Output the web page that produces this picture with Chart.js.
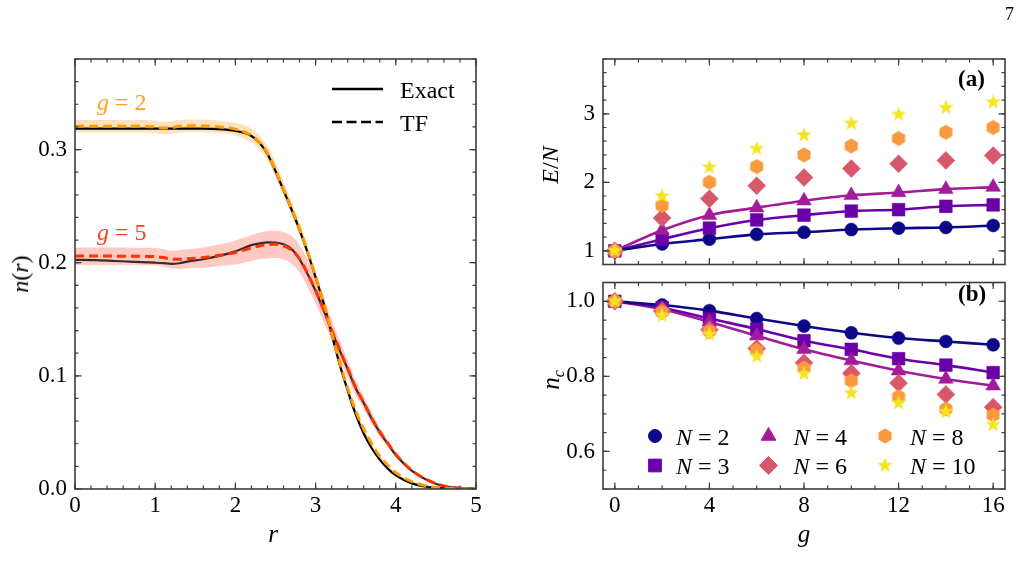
<!DOCTYPE html>
<html><head><meta charset="utf-8">
<script src="https://cdn.jsdelivr.net/npm/chart.js@4.4.0/dist/chart.umd.min.js"></script>
<style>
body{margin:0;background:#fff;width:1021px;height:582px;overflow:hidden;position:relative;font-family:"Liberation Serif","Times New Roman",serif;}
canvas{position:absolute;}
.lbl{position:absolute;white-space:nowrap;color:#000;line-height:1;}
.rot{transform:translate(-50%,-50%) rotate(-90deg);}
.ctr{transform:translate(-50%,-50%);}
</style></head><body>
<canvas id="cL" width="520" height="582" style="left:0;top:0"></canvas>
<canvas id="cA" width="481" height="274" style="left:540px;top:0"></canvas>
<canvas id="cB" width="481" height="309" style="left:540px;top:273px"></canvas>

<div class="lbl" style="left:1005px;top:5px;font-size:18px;">7</div>
<div class="lbl rot" style="left:20px;top:274px;font-size:24px;"><i>n</i>(<i>r</i>)</div>
<div class="lbl ctr" style="left:273px;top:533px;font-size:25px;"><i>r</i></div>
<div class="lbl rot" style="left:550px;top:165px;font-size:24px;"><i>E</i>/<i>N</i></div>
<div class="lbl rot" style="left:550px;top:380px;font-size:25px;"><i>n</i><i style="font-size:16px;position:relative;top:5px;">c</i></div>
<div class="lbl ctr" style="left:804px;top:533px;font-size:25px;"><i>g</i></div>
<div class="lbl" style="left:97px;top:90px;font-size:24px;color:#ffa31a;"><i>g</i> = 2</div>
<div class="lbl" style="left:97px;top:220px;font-size:24px;color:#ff3d1f;"><i>g</i> = 5</div>
<div class="lbl" style="left:958px;top:67px;font-size:23px;font-weight:bold;">(a)</div>
<div class="lbl" style="left:958px;top:282px;font-size:23px;font-weight:bold;">(b)</div>

<script>
// ---------- data: density profiles n(r) ----------
const rGrid   = [0,0.25,0.5,0.75,1.0,1.1,1.2,1.3,1.4,1.6,1.8,2.0,2.2,2.3,2.4,2.5,2.6,2.7,2.8,2.9,3.0,3.1,3.2,3.3,3.4,3.5,3.6,3.7,3.8,3.9,4.0,4.2,4.4,4.6,4.8,5.0];
const g2Exact = [.3185,.3185,.3185,.3185,.3185,.3185,.3185,.3185,.3185,.3185,.3180,.3165,.3120,.3060,.2960,.2810,.2640,.2470,.2290,.2090,.1870,.1640,.1370,.1100,.0870,.0660,.0490,.0360,.0260,.0180,.0120,.0050,.0018,.0006,.0002,0];
const g2TF    = [.3205,.3205,.3205,.3205,.3200,.3190,.3195,.3205,.3210,.3208,.3200,.3180,.3125,.3065,.2970,.2820,.2650,.2480,.2300,.2100,.1880,.1650,.1380,.1120,.0890,.0690,.0530,.0400,.0290,.0210,.0145,.0065,.0025,.0008,.0002,0];
const g2BandHi= [.3260,.3260,.3260,.3260,.3255,.3245,.3250,.3260,.3265,.3263,.3255,.3235,.3185,.3125,.3035,.2885,.2710,.2540,.2355,.2150,.1925,.1690,.1415,.1150,.0915,.0710,.0545,.0412,.0300,.0218,.0151,.0069,.0027,.0009,.0003,.0001];
const g2BandLo= [.3150,.3150,.3150,.3150,.3145,.3135,.3140,.3150,.3155,.3153,.3145,.3125,.3065,.3005,.2905,.2755,.2590,.2420,.2245,.2050,.1835,.1610,.1345,.1090,.0865,.0670,.0515,.0388,.0280,.0202,.0139,.0061,.0023,.0007,.0001,0];
const g5Exact = [.2025,.2022,.2015,.2008,.2000,.1996,.1990,.1995,.2010,.2030,.2060,.2100,.2155,.2170,.2180,.2178,.2162,.2120,.2030,.1900,.1750,.1580,.1400,.1225,.1060,.0890,.0760,.0620,.0500,.0400,.0300,.0160,.0075,.0025,.0008,.0002];
const g5TF    = [.2058,.2058,.2058,.2056,.2054,.2045,.2032,.2030,.2035,.2045,.2065,.2090,.2130,.2148,.2160,.2162,.2150,.2112,.2035,.1905,.1755,.1585,.1405,.1230,.1065,.0895,.0765,.0625,.0505,.0405,.0305,.0165,.0078,.0027,.0009,.0002];
const g5BandHi= [.2135,.2135,.2135,.2133,.2130,.2120,.2105,.2110,.2118,.2135,.2160,.2195,.2245,.2265,.2280,.2282,.2270,.2235,.2155,.2025,.1870,.1690,.1500,.1315,.1140,.0960,.0820,.0675,.0545,.0435,.0330,.0180,.0087,.0031,.0011,.0003];
const g5BandLo= [.1980,.1980,.1980,.1978,.1975,.1965,.1950,.1942,.1950,.1955,.1970,.1985,.2015,.2030,.2040,.2042,.2030,.1990,.1915,.1785,.1640,.1480,.1310,.1145,.0990,.0830,.0710,.0575,.0465,.0375,.0280,.0150,.0069,.0023,.0007,.0001];
const leftLegendLabels = ['Exact','TF'];
const rTicks  = [0,1,2,3,4,5];
const nTicks  = [0,0.1,0.2,0.3];

// ---------- data: energies and condensate fraction ----------
const gValues = [0,2,4,6,8,10,12,14,16];
const particleNumbers = [2,3,4,6,8,10];
const eN2  = [1.00,1.10,1.17,1.24,1.27,1.31,1.33,1.34,1.37];
const eN3  = [1.00,1.17,1.33,1.45,1.52,1.58,1.60,1.65,1.67];
const eN4  = [1.00,1.30,1.52,1.63,1.73,1.81,1.85,1.90,1.93];
const eN6  = [1.00,1.48,1.76,1.95,2.07,2.20,2.27,2.32,2.39];
const eN8  = [1.00,1.66,2.00,2.23,2.40,2.53,2.64,2.73,2.80];
const eN10 = [1.00,1.80,2.22,2.49,2.69,2.86,2.99,3.09,3.17];
const ncN2  = [1.000,0.990,0.975,0.954,0.934,0.916,0.902,0.893,0.884];
const ncN3  = [1.000,0.983,0.954,0.926,0.895,0.872,0.847,0.830,0.810];
const ncN4  = [1.000,0.979,0.945,0.908,0.872,0.842,0.815,0.793,0.775];
const ncN6  = [1.000,0.975,0.924,0.874,0.836,0.808,0.782,0.752,0.718];
const ncN8  = [1.000,0.971,0.920,0.870,0.822,0.788,0.746,0.713,0.697];
const ncN10 = [1.000,0.962,0.912,0.853,0.807,0.756,0.729,0.706,0.671];
const gTicks  = [0,4,8,12,16];
const eTicks  = [1,2,3];
const ncTicks = [0.6,0.8,1.0];

// ---------- styling ----------
const SERIF = '"Liberation Serif", "Times New Roman", serif';
const TICKFONT = {family: SERIF, size: 23};
const nColors = ['#0d0887','#6a00a8','#a11b9b','#d8576b','#fa9a3d','#f5e424'];

function markerCanvas(kind, color) {
  const s = 20, c = document.createElement('canvas');
  c.width = s; c.height = s;
  const x = c.getContext('2d');
  x.fillStyle = color;
  x.beginPath();
  if (kind === 'hex') {
    const R = 7.5;
    for (let k = 0; k < 6; k++) {
      const a = Math.PI/2 + k*Math.PI/3;
      const px = s/2 + R*Math.cos(a), py = s/2 - R*Math.sin(a);
      k ? x.lineTo(px, py) : x.moveTo(px, py);
    }
  } else {
    const R = 8, r = 3.3;
    for (let k = 0; k < 10; k++) {
      const a = Math.PI/2 + k*Math.PI/5, rr = k % 2 ? r : R;
      const px = s/2 + rr*Math.cos(a), py = s/2 - rr*Math.sin(a);
      k ? x.lineTo(px, py) : x.moveTo(px, py);
    }
  }
  x.closePath(); x.fill();
  return c;
}
const nStyles = [
  {pointStyle:'circle', radius:6.5},
  {pointStyle:'rect', radius:9},
  {pointStyle:'triangle', radius:8.5},
  {pointStyle:'rectRot', radius:9},
  {pointStyle:markerCanvas('hex', nColors[4]), radius:7},
  {pointStyle:markerCanvas('star', nColors[5]), radius:7}
];

function pts(xs, ys) { return xs.map((x, i) => ({x, y: ys[i]})); }

function minorValues(scale, step) {
  const out = [];
  const k0 = Math.ceil(scale.min/step - 1e-9);
  for (let k = k0; k*step <= scale.max + 1e-9; k++) out.push(k*step);
  return out;
}
const frameTicks = {
  id: 'frameTicks',
  afterDraw(chart, args, opts) {
    const {ctx, chartArea: a, scales} = chart;
    const xs = scales.x, ys = scales.y;
    ctx.save();
    ctx.strokeStyle = '#3c3c3c';
    ctx.lineWidth = 1.2;
    const draw = (vals, scale, horiz, len) => {
      ctx.beginPath();
      vals.forEach(v => {
        const p = scale.getPixelForValue(v);
        if (horiz) { ctx.moveTo(p, a.bottom); ctx.lineTo(p, a.bottom - len); ctx.moveTo(p, a.top); ctx.lineTo(p, a.top + len); }
        else { ctx.moveTo(a.left, p); ctx.lineTo(a.left + len, p); ctx.moveTo(a.right, p); ctx.lineTo(a.right - len, p); }
      });
      ctx.stroke();
    };
    draw(minorValues(xs, opts.xMinor), xs, true, 3.5);
    draw(xs.ticks.map(t => t.value), xs, true, 6.5);
    draw(minorValues(ys, opts.yMinor), ys, false, 3.5);
    draw(ys.ticks.map(t => t.value), ys, false, 6.5);
    ctx.lineWidth = 1.6;
    ctx.strokeRect(a.left, a.top, a.right - a.left, a.bottom - a.top);
    ctx.restore();
  }
};

function drawMath(ctx, x, y, parts, size) {
  let cx = x;
  parts.forEach(([t, it]) => {
    ctx.font = (it ? 'italic ' : '') + size + 'px ' + SERIF;
    ctx.fillText(t, cx, y);
    cx += ctx.measureText(t).width;
  });
}

const leftLegend = {
  id: 'leftLegend',
  afterDraw(chart) {
    const ctx = chart.ctx;
    ctx.save();
    ctx.strokeStyle = '#000'; ctx.lineWidth = 2.6;
    ctx.beginPath(); ctx.moveTo(332, 89); ctx.lineTo(383, 89); ctx.stroke();
    ctx.setLineDash([10, 4.5]);
    ctx.beginPath(); ctx.moveTo(332, 122); ctx.lineTo(383, 122); ctx.stroke();
    ctx.setLineDash([]);
    ctx.fillStyle = '#000';
    ctx.textBaseline = 'alphabetic';
    ctx.font = '24px ' + SERIF;
    ctx.fillText(leftLegendLabels[0], 400, 98);
    ctx.fillText(leftLegendLabels[1], 400, 131);
    ctx.restore();
  }
};

function axisCommon(min, max, tickVals, fmt, fitProp, fitVal, showTicks, pad) {
  return {
    type: 'linear', min, max,
    grid: {display: false, drawTicks: false, tickLength: 0}, border: {display: false},
    ticks: {includeBounds: false, display: showTicks, color: '#000', font: TICKFONT,
            padding: pad, maxRotation: 0, autoSkip: false, callback: fmt},
    afterBuildTicks(s) { s.ticks = tickVals.map(v => ({value: v})); },
    afterFit(s) {
      s[fitProp] = fitVal;
      s.paddingTop = 0; s.paddingBottom = 0; s.paddingLeft = 0; s.paddingRight = 0;
    }
  };
}
const fmt1 = v => v.toFixed(1);
const fmt0 = v => String(Math.round(v));

// ---------- left chart ----------
new Chart(document.getElementById('cL'), {
  type: 'scatter',
  data: {
    datasets: [
      {label: 'TF g=2', data: pts(rGrid, g2TF), showLine: true, borderColor: '#ff9a00', borderWidth: 3, borderDash: [9, 5], pointRadius: 0, cubicInterpolationMode: 'monotone', order: 0},
      {label: 'TF g=5', data: pts(rGrid, g5TF), showLine: true, borderColor: '#ff3300', borderWidth: 3, borderDash: [9, 5], pointRadius: 0, cubicInterpolationMode: 'monotone', order: 1},
      {label: 'Exact g=2', data: pts(rGrid, g2Exact), showLine: true, borderColor: '#000', borderWidth: 2.2, pointRadius: 0, cubicInterpolationMode: 'monotone', order: 2},
      {label: 'Exact g=5', data: pts(rGrid, g5Exact), showLine: true, borderColor: 'rgba(0,0,0,0.78)', borderWidth: 2.2, pointRadius: 0, cubicInterpolationMode: 'monotone', order: 3},
      {label: 'band2hi', data: pts(rGrid, g2BandHi), showLine: true, borderWidth: 0, borderColor: 'rgba(0,0,0,0)', pointRadius: 0, fill: '+1', backgroundColor: 'rgba(255,170,60,0.35)', cubicInterpolationMode: 'monotone', order: 4},
      {label: 'band2lo', data: pts(rGrid, g2BandLo), showLine: true, borderWidth: 0, borderColor: 'rgba(0,0,0,0)', pointRadius: 0, fill: false, cubicInterpolationMode: 'monotone', order: 5},
      {label: 'band5hi', data: pts(rGrid, g5BandHi), showLine: true, borderWidth: 0, borderColor: 'rgba(0,0,0,0)', pointRadius: 0, fill: '+1', backgroundColor: 'rgba(255,90,70,0.32)', cubicInterpolationMode: 'monotone', order: 6},
      {label: 'band5lo', data: pts(rGrid, g5BandLo), showLine: true, borderWidth: 0, borderColor: 'rgba(0,0,0,0)', pointRadius: 0, fill: false, cubicInterpolationMode: 'monotone', order: 7}
    ]
  },
  options: {
    responsive: false, animation: false, events: [],
    layout: {padding: {left: 0, top: 59, right: 44, bottom: 0}},
    plugins: {legend: {display: false}, tooltip: {enabled: false}, frameTicks: {xMinor: 0.2, yMinor: 0.02}},
    scales: {
      x: axisCommon(0, 5, rTicks, fmt0, 'height', 93, true, 3),
      y: axisCommon(0, 0.38, nTicks, fmt1, 'width', 75, true, 8)
    }
  },
  plugins: [frameTicks, leftLegend]
});

// ---------- right charts ----------
const eSeries = [eN2, eN3, eN4, eN6, eN8, eN10];
const ncSeries = [ncN2, ncN3, ncN4, ncN6, ncN8, ncN10];

function rightDatasets(series) {
  const ds = [];
  for (let i = series.length - 1; i >= 0; i--) {
    ds.push({label: 'N = ' + particleNumbers[i], data: pts(gValues, series[i]), showLine: false,
      pointStyle: nStyles[i].pointStyle, pointRadius: nStyles[i].radius,
      backgroundColor: nColors[i], borderColor: nColors[i], borderWidth: 0.5, order: series.length - 1 - i});
  }
  for (let i = 0; i < 3; i++) {
    ds.push({label: 'line N=' + particleNumbers[i], data: pts(gValues, series[i]), showLine: true,
      pointRadius: 0, borderColor: nColors[i], borderWidth: 2.6, cubicInterpolationMode: 'monotone', order: 10 + i});
  }
  return ds;
}

const nLegend = {
  id: 'nLegend',
  afterDraw(chart) {
    const ctx = chart.ctx;
    const cols = [115, 228.5, 345], rows = [163, 192.5];
    const textCols = [136, 253.5, 370], textRows = [171.5, 201];
    const colOf = [0,0,1,1,2,2], rowOf = [0,1,0,1,0,1];
    ctx.save();
    for (let i = 0; i < particleNumbers.length; i++) {
      const x = cols[colOf[i]], y = rows[rowOf[i]];
      ctx.fillStyle = nColors[i]; ctx.strokeStyle = nColors[i];
      Chart.helpers.drawPoint(ctx, {pointStyle: nStyles[i].pointStyle, radius: nStyles[i].radius, rotation: 0, borderWidth: 0.5}, x, y);
      ctx.fillStyle = '#000';
      ctx.textBaseline = 'alphabetic';
      drawMath(ctx, textCols[colOf[i]], textRows[rowOf[i]], [['N', true], [' = ' + particleNumbers[i], false]], 24);
    }
    ctx.restore();
  }
};

new Chart(document.getElementById('cA'), {
  type: 'scatter',
  data: {datasets: rightDatasets(eSeries)},
  options: {
    responsive: false, animation: false, events: [],
    layout: {padding: {left: 0, top: 59, right: 16, bottom: 0}},
    plugins: {legend: {display: false}, tooltip: {enabled: false}, frameTicks: {xMinor: 1, yMinor: 0.2}},
    scales: {
      x: axisCommon(-0.5, 16.5, gTicks, fmt0, 'height', 0, false, 3),
      y: axisCommon(0.8, 3.8, eTicks, fmt0, 'width', 63, true, 8)
    }
  },
  plugins: [frameTicks]
});

new Chart(document.getElementById('cB'), {
  type: 'scatter',
  data: {datasets: rightDatasets(ncSeries)},
  options: {
    responsive: false, animation: false, events: [],
    layout: {padding: {left: 0, top: 1, right: 16, bottom: 0}},
    plugins: {legend: {display: false}, tooltip: {enabled: false}, frameTicks: {xMinor: 1, yMinor: 0.05}},
    scales: {
      x: axisCommon(-0.5, 16.5, gTicks, fmt0, 'height', 93, true, 3),
      y: axisCommon(0.5, 1.05, ncTicks, fmt1, 'width', 63, true, 8)
    }
  },
  plugins: [frameTicks, nLegend]
});
</script>
</body></html>
